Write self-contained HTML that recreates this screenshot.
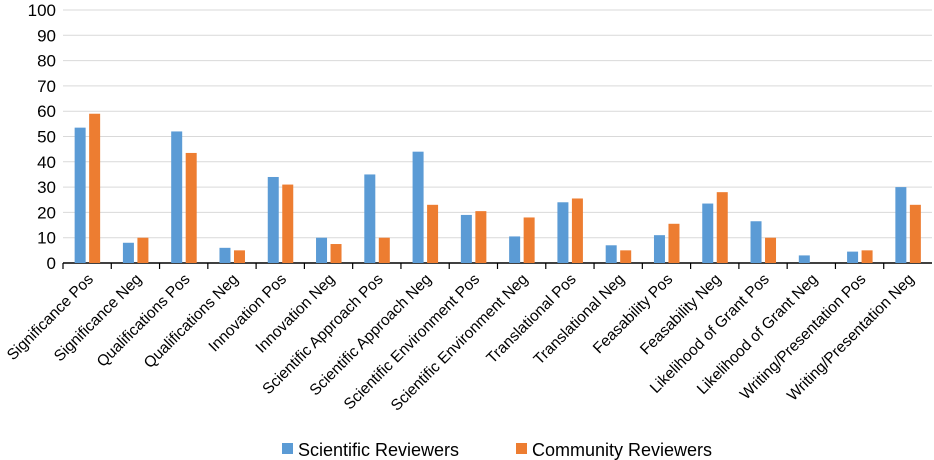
<!DOCTYPE html>
<html><head><meta charset="utf-8"><style>
body{margin:0;background:#fff;}
svg{display:block;font-family:"Liberation Sans",Arial,sans-serif;}
</style></head><body>
<svg id="chart" width="934" height="460"></svg>
<script>
const categories=["Significance Pos","Significance Neg","Qualifications Pos","Qualifications Neg","Innovation Pos","Innovation Neg","Scientific Approach Pos","Scientific Approach Neg","Scientific Environment Pos","Scientific Environment Neg","Translational Pos","Translational Neg","Feasability Pos","Feasability Neg","Likelihood of Grant Pos","Likelihood of Grant Neg","Writing/Presentation Pos","Writing/Presentation Neg"];
const scientific=[53.5,8,52,6,34,10,35,44,19,10.5,24,7,11,23.5,16.5,3,4.5,30];
const community=[59,10,43.5,5,31,7.5,10,23,20.5,18,25.5,5,15.5,28,10,0,5,23];
const yTicks=[0,10,20,30,40,50,60,70,80,90,100];
const NS="http://www.w3.org/2000/svg";
const svg=document.getElementById('chart');
const x0=63,x1=932,y0=263,y1=10;
const bw=(x1-x0)/categories.length;
const y=v=>y0-(v/100)*(y0-y1);
function mk(t,a,p){const e=document.createElementNS(NS,t);for(const k in a)e.setAttribute(k,a[k]);(p||svg).appendChild(e);return e;}
yTicks.forEach(t=>{
  if(t>0){const g=mk('line',{x1:x0,x2:x1,y1:y(t),y2:y(t),stroke:'#d9d9d9','stroke-width':1});
  
  }
  const l=mk('text',{x:56,y:y(t)+6,'text-anchor':'end','font-size':17,fill:'#000'});
  
  
  l.textContent=t;
});
const ax=mk('line',{x1:x0,x2:x1,y1:y0,y2:y0,stroke:'#000','stroke-width':1.5});


categories.forEach((c,i)=>{
  const cx=x0+bw*(i+0.5);
  const tk=mk('line',{x1:x0+bw*i,x2:x0+bw*i,y1:y0,y2:y0+6,stroke:'#000','stroke-width':1.2});
  
  
  const b1=mk('rect',{x:cx-12.5,y:y(scientific[i]),width:11,height:y0-y(scientific[i]),fill:'#5b9bd5'});
  
  
  const b2=mk('rect',{x:cx+2,y:y(community[i]),width:11,height:y0-y(community[i]),fill:'#ed7d31'});
  
  
  const t=mk('text',{x:cx+7,y:y0+17,'text-anchor':'end','font-size':15.5,fill:'#000',transform:`rotate(-45 ${cx+7} ${y0+17})`});
  
  
  t.textContent=c;
});
const lg=mk('g',{});


[[282,'#5b9bd5','Scientific Reviewers'],[516,'#ed7d31','Community Reviewers']].forEach(([lx,col,txt])=>{
  const r=mk('rect',{x:lx,y:443,width:11,height:11,fill:col},lg);
  
  
  const tt=mk('text',{x:lx+16,y:456,'font-size':18,fill:'#000'},lg);
  
  
  tt.textContent=txt;
});
</script>
</body></html>
